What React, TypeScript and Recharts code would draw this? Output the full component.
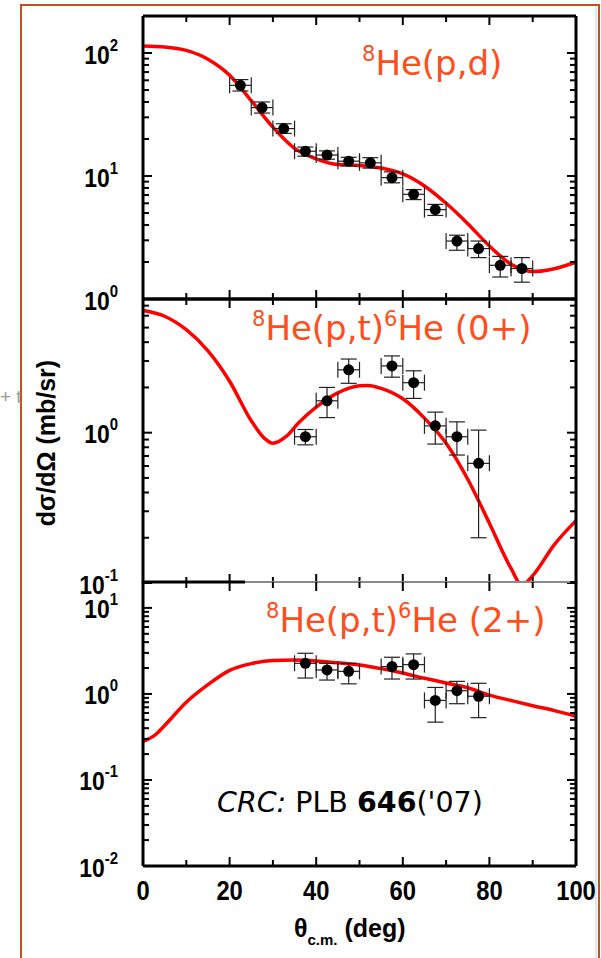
import { ComposedChart, Line, Scatter, ErrorBar, XAxis, YAxis } from "recharts"

// 8He(p,d) — measured points (deg, mb/sr) with error bounds
const pdAngles = [22.5, 27.5, 32.5, 37.5, 42.5, 47.5, 52.5, 57.5, 62.5, 67.5, 72.5, 77.5, 82.5, 87.5]
const pdValues = [54.6, 36.0, 24.3, 15.9, 14.8, 13.2, 12.8, 9.7, 7.1, 5.33, 2.96, 2.57, 1.88, 1.77]
const pdLow = [49.1, 32.5, 22.2, 14.5, 13.7, 12.1, 11.6, 8.8, 6.43, 4.78, 2.49, 2.17, 1.51, 1.37]
const pdHigh = [60.8, 40.0, 26.6, 17.2, 16.0, 14.2, 14.1, 10.8, 7.75, 5.88, 3.3, 2.96, 2.22, 2.17]

// 8He(p,t)6He — shared angles for 0+ and 2+
const ptAngles = [37.5, 42.5, 47.5, 57.5, 62.5, 67.5, 72.5, 77.5]
const gsValues = [0.94, 1.63, 2.62, 2.78, 2.15, 1.11, 0.94, 0.625]
const gsLow = [0.83, 1.26, 2.13, 2.34, 1.69, 0.84, 0.71, 0.2]
const gsHigh = [1.05, 2.0, 3.09, 3.24, 2.58, 1.37, 1.18, 1.04]
const exValues = [2.27, 1.9, 1.83, 2.08, 2.19, 0.84, 1.09, 0.94]
const exLow = [1.53, 1.45, 1.31, 1.49, 1.49, 0.47, 0.77, 0.53]
const exHigh = [2.97, 2.27, 2.27, 2.67, 2.92, 1.19, 1.4, 1.33]
const angleErr = 2.5

// CRC calculations
const pdCurveX = [0, 5, 10, 15, 20, 25, 30, 35, 40, 45, 50, 55, 60, 65, 70, 75, 80, 85, 88, 90, 95, 100]
const pdCurveY = [114, 112, 105, 89, 66, 41, 25, 16.8, 13.8, 12.4, 12.2, 11.6, 10.4, 8.3, 6.0, 4.1, 2.7, 1.92, 1.72, 1.67, 1.76, 2.0]
const gsCurveX = [0, 5, 10, 15, 20, 25, 28, 30, 33, 36, 40, 45, 50, 52, 55, 60, 65, 70, 75, 80, 85, 87.5, 90, 95, 100]
const gsCurveY = [6.5, 5.95, 4.84, 3.5, 2.2, 1.2, 0.92, 0.85, 0.94, 1.17, 1.48, 1.84, 2.05, 2.06, 1.97, 1.68, 1.25, 0.85, 0.49, 0.25, 0.125, 0.097, 0.112, 0.18, 0.26]
const exCurveX = [0, 3, 5, 10, 15, 20, 25, 30, 35, 40, 45, 50, 55, 60, 65, 70, 75, 80, 85, 90, 95, 100]
const exCurveY = [0.28, 0.34, 0.43, 0.8, 1.28, 1.88, 2.25, 2.45, 2.48, 2.42, 2.3, 2.17, 1.97, 1.75, 1.52, 1.34, 1.18, 0.97, 0.84, 0.73, 0.64, 0.55]

const xTicks = [0, 10, 20, 30, 40, 50, 60, 70, 80, 90, 100]

const toPoints = (xs: number[], ys: number[], lo: number[], hi: number[]) =>
  xs.map((x, i) => ({ x, y: ys[i], ex: angleErr, ey: [ys[i] - lo[i], hi[i] - ys[i]] }))
const toCurve = (xs: number[], ys: number[]) => xs.map((x, i) => ({ x, y: ys[i] }))

function logTicks(lo: number, hi: number) {
  const out: number[] = []
  for (let e = Math.floor(Math.log10(lo)); Math.pow(10, e) <= hi; e++) {
    for (let m = 1; m < 10; m++) {
      const v = +(m * Math.pow(10, e)).toPrecision(3)
      if (v >= lo * 0.999 && v <= hi * 1.001) out.push(v)
    }
  }
  return out
}

const isDecade = (v: number) => Math.abs(Math.log10(v) - Math.round(Math.log10(v))) < 1e-6
const LABEL_FONT = "'Liberation Sans', Arial, sans-serif"
const TITLE_FONT = "'DejaVu Sans', sans-serif"
const RED = "#ff0000"
const TITLE = "#ff4d1c"

function LeftTick(props: any) {
  const { x, y, payload } = props
  const v = payload.value
  const major = isDecade(v)
  return (
    <g>
      <line x1={x} x2={x + (major ? 9 : 6)} y1={y} y2={y} stroke="#000" strokeWidth={2} />
      {major && (
        <text
          transform={`translate(${x - 25},${y + 10.5}) scale(0.88,1)`}
          textAnchor="end"
          fontFamily={LABEL_FONT}
          fontWeight={700}
          fontSize={26}
          fill="#000"
        >
          <tspan>10</tspan>
          <tspan dy={-13} fontSize={17}>{Math.round(Math.log10(v))}</tspan>
        </text>
      )}
    </g>
  )
}

function RightTick(props: any) {
  const { x, y, payload } = props
  const major = isDecade(payload.value)
  return <line x1={x} x2={x - (major ? 9 : 6)} y1={y} y2={y} stroke="#000" strokeWidth={2} />
}

function BottomTick(props: any) {
  const { x, y, payload, showLabel } = props
  const major = payload.value % 20 === 0
  return (
    <g>
      <line x1={x} x2={x} y1={y} y2={y - (major ? 9 : 6)} stroke="#000" strokeWidth={2} />
      {showLabel && major && (
        <text
          transform={`translate(${x},${y + 34}) scale(0.88,1)`}
          textAnchor="middle"
          fontFamily={LABEL_FONT}
          fontWeight={700}
          fontSize={27}
          fill="#000"
        >
          {payload.value}
        </text>
      )}
    </g>
  )
}

function TopTick(props: any) {
  const { x, y, payload } = props
  const major = payload.value % 20 === 0
  return <line x1={x} x2={x} y1={y} y2={y + (major ? 9 : 6)} stroke="#000" strokeWidth={2} />
}

const Dot = (props: any) => <circle cx={props.cx} cy={props.cy} r={5.5} fill="#000" />

interface PanelProps {
  top: number
  height: number
  marginTop: number
  marginBottom: number
  domain: [number, number]
  curve: { x: number; y: number }[]
  points: { x: number; y: number; ex: number; ey: number[] }[]
  xLabels?: boolean
  bottomLine?: any
  topLine?: any
}

const axisLine = { stroke: "#000", strokeWidth: 3 }

// each panel: x axes are 1px tall, so the plot box is margin + 1 on top and bottom
function Panel({ top, height, marginTop, marginBottom, domain, curve, points, xLabels, bottomLine, topLine }: PanelProps) {
  const yTicks = logTicks(domain[0], domain[1])
  return (
    <div style={{ position: "absolute", left: 0, top }}>
      <ComposedChart width={601} height={height} margin={{ top: marginTop - 1, bottom: marginBottom - 1, left: 83, right: 5 }}>
        <XAxis
          xAxisId="b"
          dataKey="x"
          type="number"
          domain={[0, 100]}
          ticks={xTicks}
          interval={0}
          height={1}
          tickSize={0}
          tickMargin={0}
          tickLine={false}
          axisLine={bottomLine ?? axisLine}
          tick={(p: any) => <BottomTick {...p} showLabel={xLabels} />}
        />
        <XAxis
          xAxisId="t"
          orientation="top"
          dataKey="x"
          type="number"
          domain={[0, 100]}
          ticks={xTicks}
          interval={0}
          height={1}
          tickSize={0}
          tickMargin={0}
          tickLine={false}
          axisLine={topLine ?? axisLine}
          tick={(p: any) => <TopTick {...p} />}
        />
        <YAxis
          yAxisId="l"
          dataKey="y"
          type="number"
          scale="log"
          domain={domain}
          allowDataOverflow
          ticks={yTicks}
          interval={0}
          width={60}
          tickSize={0}
          tickMargin={0}
          tickLine={false}
          axisLine={axisLine}
          tick={(p: any) => <LeftTick {...p} />}
        />
        <YAxis
          yAxisId="r"
          orientation="right"
          dataKey="y"
          type="number"
          scale="log"
          domain={domain}
          allowDataOverflow
          ticks={yTicks}
          interval={0}
          width={20}
          tickSize={0}
          tickMargin={0}
          tickLine={false}
          axisLine={axisLine}
          tick={(p: any) => <RightTick {...p} />}
        />
        <Line
          xAxisId="b"
          yAxisId="l"
          data={curve}
          dataKey="y"
          type="monotone"
          stroke={RED}
          strokeWidth={3.5}
          dot={false}
          isAnimationActive={false}
        />
        <Scatter xAxisId="t" yAxisId="r" data={points} shape={Dot} isAnimationActive={false}>
          <ErrorBar dataKey="ey" direction="y" width={8} stroke="#222" strokeWidth={1.2} isAnimationActive={false} />
          <ErrorBar dataKey="ex" direction="x" width={8} stroke="#222" strokeWidth={1.2} isAnimationActive={false} />
        </Scatter>
      </ComposedChart>
    </div>
  )
}

function Title({ x, y, parts }: { x: number; y: number; parts: [string, boolean][] }) {
  return (
    <text x={x} y={y} fontFamily={TITLE_FONT} fill={TITLE} fontSize={34}>
      {parts.map(([t, sup], i) => {
        const prevSup = i > 0 && parts[i - 1][1]
        const dy = sup ? -14 : prevSup ? 14 : 0
        return (
          <tspan key={i} dy={dy} fontSize={sup ? 21 : 34}>
            {t}
          </tspan>
        )
      })}
    </text>
  )
}

export default function App() {
  return (
    <div style={{ position: "absolute", left: 0, top: 0, width: 601, height: 958, background: "#fff", overflow: "hidden" }}>
      <Panel
        top={0}
        height={320}
        marginTop={16}
        marginBottom={21}
        domain={[1, 200]}
        curve={toCurve(pdCurveX, pdCurveY)}
        points={toPoints(pdAngles, pdValues, pdLow, pdHigh)}
      />
      <Panel
        top={290}
        height={310}
        marginTop={9}
        marginBottom={17}
        domain={[0.1, 7.75]}
        curve={toCurve(gsCurveX, gsCurveY)}
        points={toPoints(ptAngles, gsValues, gsLow, gsHigh)}
        bottomLine={false}
      />
      <Panel
        top={570}
        height={388}
        marginTop={12}
        marginBottom={92}
        domain={[0.01, 20]}
        curve={toCurve(exCurveX, exCurveY)}
        points={toPoints(ptAngles, exValues, exLow, exHigh)}
        xLabels
        topLine={{ stroke: "#8a8a8a", strokeWidth: 2 }}
      />
      <svg width={601} height={958} style={{ position: "absolute", left: 0, top: 0, pointerEvents: "none" }}>
        <rect x={21} y={5} width={578} height={970} fill="none" stroke="#c4501f" strokeWidth={2} />
        <line x1={596} x2={596} y1={6} y2={958} stroke="#cfcfcf" strokeWidth={1} />
        <line x1={143} x2={245} y1={582} y2={582} stroke="#000" strokeWidth={3} />
        <text x={0} y={403} fontFamily={LABEL_FONT} fontSize={19} fill="#999">+ t</text>

        <Title x={362} y={75} parts={[["8", true], ["He(p,d)", false]]} />
        <Title x={252} y={340} parts={[["8", true], ["He(p,t)", false], ["6", true], ["He (0+)", false]]} />
        <Title x={266} y={632} parts={[["8", true], ["He(p,t)", false], ["6", true], ["He (2+)", false]]} />

        <text x={217} y={812} fontFamily={TITLE_FONT} fontSize={28.5} fill="#000">
          <tspan fontStyle="italic">CRC:</tspan>
          <tspan> PLB </tspan>
          <tspan fontWeight={700}>646</tspan>
          <tspan>('07)</tspan>
        </text>

        <text
          transform="translate(55,443) rotate(-90)"
          textAnchor="middle"
          fontFamily={LABEL_FONT}
          fontWeight={700}
          fontSize={25}
          fill="#000"
        >
          dσ/dΩ (mb/sr)
        </text>

        <text x={294} y={937} fontFamily={LABEL_FONT} fontWeight={700} fontSize={25} fill="#000">
          <tspan>θ</tspan>
          <tspan dy={8} fontSize={15}>c.m.</tspan>
          <tspan dy={-8}> (deg)</tspan>
        </text>
      </svg>
    </div>
  )
}
